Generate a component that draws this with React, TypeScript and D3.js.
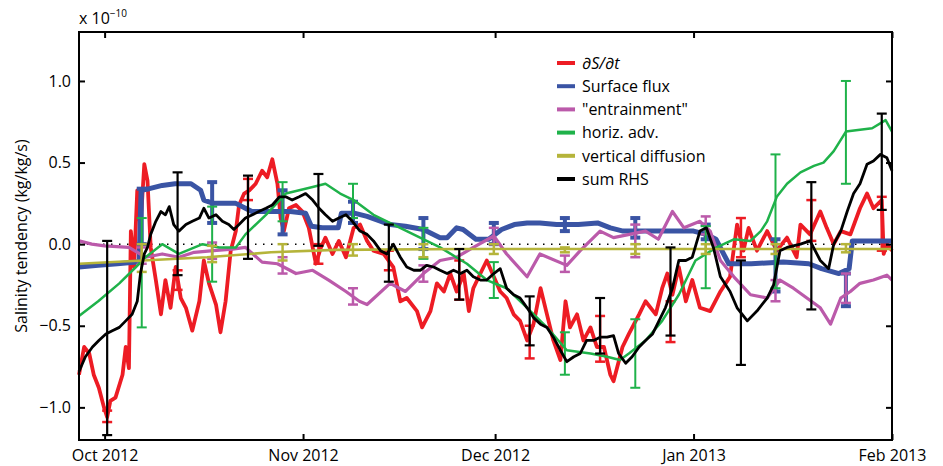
import React, { useEffect, useRef } from "react";
import * as d3 from "d3";

// days counted from 27 Sep 2012
const redDays = [0, 0.8, 1.6, 2.3, 3.1, 3.9, 4.4, 4.9, 5.7, 6.8, 7.3, 7.8, 8.1, 8.6, 9.1, 9.6, 10.2, 10.7, 11.2, 12.0, 12.8, 13.5, 14.3, 15.1, 15.9, 16.7, 17.7, 18.8, 19.5, 20.3, 21.4, 22.1, 22.9, 23.7, 24.5, 25.0, 25.8, 26.6, 27.6, 28.6, 29.4, 30.2, 31.0, 31.5, 32.0, 32.8, 33.9, 34.9, 35.9, 37.0, 37.8, 38.5, 39.6, 40.6, 41.7, 42.9, 43.9, 45.0, 46.0, 47.6, 49.1, 50.2, 51.2, 52.8, 53.6, 54.9, 55.9, 57.0, 58.0, 59.0, 60.1, 60.9, 61.6, 62.7, 63.7, 64.8, 65.8, 66.8, 67.9, 68.9, 70.0, 71.0, 72.1, 73.1, 74.1, 75.2, 76.0, 76.7, 77.8, 78.8, 79.9, 80.9, 82.0, 83.0, 83.5, 84.9, 85.9, 87.5, 88.5, 90.1, 91.1, 91.9, 92.7, 93.7, 94.8, 95.8, 97.0, 98.6, 100.2, 101.7, 102.8, 103.8, 104.6, 105.9, 107.5, 109.0, 110.6, 112.1, 112.7, 114.2, 115.8, 116.8, 117.9, 119.0, 120.5, 122.0, 123.1, 124.1, 125.4, 125.7, 126.2, 127.0];
const redValues = [-0.80, -0.63, -0.67, -0.80, -0.88, -1.00, -1.06, -0.96, -0.94, -0.80, -0.63, -0.76, 0.08, -0.14, 0.33, 0.10, 0.49, 0.39, -0.02, -0.22, -0.43, -0.22, -0.39, -0.14, -0.33, -0.39, -0.53, -0.35, -0.10, -0.24, -0.37, -0.54, -0.35, -0.04, 0.08, 0.24, 0.31, 0.33, 0.37, 0.45, 0.41, 0.52, 0.37, 0.16, 0.08, 0.22, 0.24, 0.20, 0.10, -0.12, -0.02, 0.04, -0.06, 0.02, -0.08, 0.10, 0.12, 0.02, -0.04, -0.06, -0.14, -0.35, -0.33, -0.41, -0.51, -0.41, -0.24, -0.29, -0.18, -0.29, -0.18, -0.41, -0.27, -0.18, -0.10, -0.20, -0.29, -0.33, -0.43, -0.47, -0.59, -0.49, -0.27, -0.43, -0.59, -0.71, -0.35, -0.51, -0.43, -0.59, -0.51, -0.63, -0.63, -0.80, -0.84, -0.63, -0.55, -0.43, -0.35, -0.43, -0.27, -0.18, -0.31, -0.14, -0.35, -0.22, -0.39, -0.41, -0.29, -0.20, 0.12, -0.04, 0.10, -0.04, 0.08, -0.04, 0.04, -0.08, 0.12, 0.06, 0.20, 0.10, 0.0, 0.08, 0.06, 0.22, 0.31, 0.22, 0.27, -0.06, 0.0, -0.04];

const blueDays = [0, 3, 6, 9, 9.4, 9.7, 11, 13, 15, 17.5, 19, 19.5, 21, 24.5, 26, 27, 30, 33, 35.4, 36.3, 38, 40.5, 41, 43, 45, 48.6, 51, 53.8, 56.4, 57.5, 59, 60, 62, 64, 66, 68, 70, 72, 74.6, 78, 81, 83, 85, 90, 96, 98, 99.5, 101.5, 105, 110, 114, 116, 118.7, 120.3, 120.8, 127];
const blueValues = [-0.14, -0.13, -0.12, -0.11, -0.10, 0.33, 0.34, 0.36, 0.37, 0.37, 0.33, 0.27, 0.25, 0.25, 0.22, 0.20, 0.20, 0.20, 0.19, 0.11, 0.10, 0.10, 0.19, 0.19, 0.17, 0.12, 0.11, 0.09, 0.04, 0.04, 0.10, 0.09, 0.03, 0.03, 0.09, 0.12, 0.13, 0.13, 0.12, 0.12, 0.13, 0.10, 0.08, 0.08, 0.08, 0.06, 0.03, -0.12, -0.12, -0.11, -0.12, -0.15, -0.18, -0.15, 0.02, 0.02];

const magentaDays = [0, 2, 4, 7.8, 10.4, 13, 15.6, 18, 21, 24, 26, 28.6, 31, 33.9, 36.5, 39, 41.7, 43.8, 45, 48.6, 51, 53.8, 56.4, 59, 61.6, 64.8, 66.8, 70, 72, 76.2, 78.3, 81.4, 83.5, 86, 88.5, 90.5, 92.7, 94.5, 97.0, 98.6, 100.2, 102.3, 104.9, 107.5, 109.5, 111.6, 113.7, 115.8, 117.4, 119.0, 120.5, 122.0, 124.1, 126.2, 127];
const magentaValues = [0.02, 0.0, -0.01, -0.02, -0.08, -0.06, -0.08, -0.05, -0.04, -0.03, -0.02, -0.11, -0.12, -0.18, -0.16, -0.22, -0.29, -0.35, -0.37, -0.24, -0.29, -0.18, -0.10, -0.08, -0.02, 0.05, -0.06, -0.20, -0.06, -0.13, -0.04, 0.08, 0.04, 0.06, 0.08, 0.03, 0.20, 0.10, 0.14, 0.08, -0.10, -0.20, -0.31, -0.33, -0.22, -0.27, -0.33, -0.39, -0.49, -0.33, -0.29, -0.24, -0.22, -0.19, -0.22];

const greenDays = [0, 3, 6.3, 8.9, 10.4, 13, 15.6, 19.3, 21.9, 24.5, 26, 29.2, 32.3, 36.5, 38.5, 40.8, 42.9, 46, 51.2, 56.4, 60.6, 63.7, 66.8, 70, 73.1, 76.2, 79.9, 82.5, 84.5, 85.9, 88.5, 91.1, 93.7, 96.3, 99.6, 102.3, 104.9, 106.5, 107.5, 109.0, 110.6, 112.7, 114.8, 116.3, 117.9, 119.8, 123.9, 126, 127];
const greenValues = [-0.44, -0.35, -0.24, -0.14, -0.08, 0.0, -0.06, 0.0, -0.02, -0.02, 0.06, 0.18, 0.31, 0.35, 0.37, 0.31, 0.27, 0.18, 0.08, -0.02, -0.12, -0.22, -0.27, -0.39, -0.51, -0.65, -0.67, -0.69, -0.71, -0.67, -0.59, -0.47, -0.31, -0.10, -0.02, 0.03, 0.02, 0.08, 0.14, 0.29, 0.37, 0.44, 0.48, 0.50, 0.57, 0.69, 0.71, 0.76, 0.69];

const yellowDays = [0, 10, 20, 30, 40, 60, 90, 127];
const yellowValues = [-0.12, -0.10, -0.08, -0.05, -0.035, -0.03, -0.03, -0.03];

const blackDays = [0, 1.0, 2.1, 3.1, 4.2, 5.2, 6.3, 7.3, 8.3, 9.1, 9.6, 10.2, 10.7, 11.2, 12.0, 12.8, 13.5, 14.1, 14.8, 15.6, 16.7, 17.7, 18.8, 19.5, 20.3, 21.4, 22.4, 23.4, 24.2, 25.0, 26.0, 27.1, 28.1, 29.2, 30.2, 31.3, 32.3, 33.3, 34.4, 35.4, 36.5, 37.5, 38.5, 39.6, 40.6, 41.7, 42.7, 43.9, 45.0, 46.0, 47.1, 48.1, 49.1, 50.2, 51.2, 52.3, 53.3, 54.3, 55.4, 56.4, 57.5, 58.5, 59.6, 60.6, 61.6, 62.7, 63.7, 64.8, 65.8, 66.8, 67.9, 68.9, 70.0, 71.0, 72.1, 73.1, 74.1, 75.2, 76.2, 77.3, 78.3, 79.3, 80.4, 81.4, 82.5, 83.5, 84.3, 85.4, 86.4, 87.5, 88.5, 89.6, 90.6, 91.6, 92.7, 93.7, 94.8, 95.8, 97.0, 98.0, 99.1, 100.2, 101.7, 102.8, 104.4, 105.9, 107.5, 108.5, 109.5, 110.6, 112.7, 114.2, 115.8, 117.1, 117.9, 119.0, 120.0, 121.0, 122.0, 123.1, 124.1, 125.2, 126.2, 127.0];
const blackValues = [-0.78, -0.69, -0.63, -0.59, -0.55, -0.53, -0.51, -0.47, -0.43, -0.35, -0.18, -0.06, -0.02, 0.06, 0.14, 0.20, 0.18, 0.23, 0.12, 0.08, 0.12, 0.14, 0.16, 0.22, 0.16, 0.18, 0.14, 0.12, 0.09, 0.12, 0.16, 0.18, 0.20, 0.22, 0.24, 0.29, 0.29, 0.27, 0.29, 0.31, 0.27, 0.22, 0.18, 0.14, 0.16, 0.18, 0.14, 0.08, 0.06, 0.02, -0.04, -0.06, 0.00, -0.08, -0.14, -0.16, -0.16, -0.13, -0.14, -0.16, -0.18, -0.16, -0.18, -0.16, -0.20, -0.22, -0.22, -0.18, -0.15, -0.27, -0.31, -0.33, -0.39, -0.45, -0.49, -0.51, -0.57, -0.65, -0.72, -0.69, -0.67, -0.59, -0.59, -0.57, -0.57, -0.56, -0.67, -0.73, -0.69, -0.63, -0.59, -0.55, -0.47, -0.39, -0.27, -0.10, -0.10, -0.08, 0.08, 0.10, -0.02, -0.20, -0.29, -0.39, -0.47, -0.41, -0.33, -0.25, -0.04, -0.02, 0.0, 0.02, -0.10, -0.15, 0.0, 0.08, 0.20, 0.31, 0.37, 0.49, 0.51, 0.55, 0.53, 0.45];

// error bars
const blackBarDays = [4.4, 15.4, 26.4, 37.4, 48.4, 59.4, 70.4, 81.4, 92.4, 103.4, 114.4, 125.4];
const blackBarLow = [-1.17, -0.19, -0.09, -0.01, -0.23, -0.34, -0.62, -0.67, -0.56, -0.74, -0.40, 0.21];
const blackBarHigh = [0.02, 0.44, 0.42, 0.43, 0.12, -0.03, -0.32, -0.33, -0.02, -0.10, 0.38, 0.80];
const redBarLow = [-1.09, -0.28, 0.27, -0.12, -0.16, -0.34, -0.70, -0.72, -0.60, -0.08, 0.02, -0.04];
const redBarHigh = [-1.02, -0.16, 0.40, 0.0, -0.04, -0.10, -0.50, -0.44, -0.35, 0.16, 0.27, 0.29];

const sideBarDays = [9.8, 20.8, 31.8, 42.8, 53.8, 64.8, 75.9, 86.9, 97.9, 108.8, 119.8];
const blueBarLow = [0.0, 0.13, 0.06, 0.13, -0.03, 0.0, 0.08, 0.04, 0.03, -0.29, -0.38];
const blueBarHigh = [0.34, 0.38, 0.33, 0.26, 0.16, 0.13, 0.16, 0.16, 0.12, 0.03, -0.18];
const magentaBarLow = [-0.12, -0.09, -0.18, -0.37, -0.23, 0.0, -0.17, -0.08, 0.06, -0.35, -0.36];
const magentaBarHigh = [-0.02, 0.01, -0.08, -0.27, -0.13, 0.10, -0.07, 0.12, 0.17, -0.22, -0.18];
const greenBarLow = [-0.51, -0.23, 0.14, 0.16, -0.09, -0.33, -0.80, -0.88, -0.27, -0.27, 0.37];
const greenBarHigh = [0.16, 0.23, 0.38, 0.37, 0.10, -0.11, -0.54, -0.46, 0.11, 0.55, 1.00];
const yellowBarLow = [-0.17, -0.11, -0.10, -0.07, -0.08, -0.06, -0.05, -0.06, -0.06, -0.06, -0.05];
const yellowBarHigh = [0.0, -0.01, 0.0, 0.0, 0.0, 0.0, -0.02, 0.0, 0.0, 0.0, 0.0];

const legendLabels = ["∂S/∂t", "Surface flux", "\"entrainment\"", "horiz. adv.", "vertical diffusion", "sum RHS"];
const colors = ["#ed1c24", "#3a54a4", "#bb5aaa", "#1fb24a", "#b5b43a", "#000000"];
const yTicks = [-1.0, -0.5, 0, 0.5, 1.0];

const App: React.FC = () => {
  const ref = useRef<SVGSVGElement>(null);

  useEffect(() => {
    const svg = d3.select(ref.current);
    svg.selectAll("*").remove();
    const font = "'Open Sans', sans-serif";

    const left = 79, right = 892, top = 32, bottom = 440;
    const start = new Date(2012, 8, 27).getTime();
    const toDate = (d: number) => new Date(start + d * 864e5);

    const x = d3.scaleTime().domain([toDate(0), new Date(2013, 1, 1)]).range([left, right]);
    const y = d3.scaleLinear().domain([-1.2, 1.3]).range([bottom, top]);

    // zero reference
    svg.append("line")
      .attr("x1", left).attr("x2", right)
      .attr("y1", y(0)).attr("y2", y(0))
      .attr("stroke", "#000").attr("stroke-width", 1.5)
      .attr("stroke-dasharray", "1.5,6.5");

    const line = d3.line<[number, number]>()
      .x(d => x(toDate(d[0])))
      .y(d => y(d[1]));

    const drawLine = (days: number[], vals: number[], color: string, w: number) => {
      svg.append("path")
        .datum(days.map((d, i) => [d, vals[i]] as [number, number]))
        .attr("d", line)
        .attr("fill", "none")
        .attr("stroke", color)
        .attr("stroke-width", w)
        .attr("stroke-linejoin", "round");
    };

    const drawBars = (days: number[], lo: number[], hi: number[], color: string, w: number, cap: number) => {
      const g = svg.append("g").attr("stroke", color).attr("stroke-width", w);
      days.forEach((d, i) => {
        const cx = x(toDate(d));
        g.append("line").attr("x1", cx).attr("x2", cx).attr("y1", y(lo[i])).attr("y2", y(hi[i]));
        g.append("line").attr("x1", cx - cap).attr("x2", cx + cap).attr("y1", y(lo[i])).attr("y2", y(lo[i]));
        g.append("line").attr("x1", cx - cap).attr("x2", cx + cap).attr("y1", y(hi[i])).attr("y2", y(hi[i]));
      });
    };

    drawLine(redDays, redValues, colors[0], 3.8);
    drawBars(blackBarDays, redBarLow, redBarHigh, colors[0], 2.5, 5);
    drawLine(blueDays, blueValues, colors[1], 5);
    drawBars(sideBarDays, blueBarLow, blueBarHigh, colors[1], 4, 5);
    drawLine(magentaDays, magentaValues, colors[2], 3.2);
    drawBars(sideBarDays, magentaBarLow, magentaBarHigh, colors[2], 2.5, 5);
    drawLine(greenDays, greenValues, colors[3], 2.5);
    drawBars(sideBarDays, greenBarLow, greenBarHigh, colors[3], 2, 5);
    drawLine(yellowDays, yellowValues, colors[4], 2.6);
    drawBars(sideBarDays, yellowBarLow, yellowBarHigh, colors[4], 2.5, 5);
    drawLine(blackDays, blackValues, colors[5], 2.8);
    drawBars(blackBarDays, blackBarLow, blackBarHigh, colors[5], 2.2, 5);

    // axes
    const months = d3.timeMonth.range(new Date(2012, 9, 1), new Date(2013, 1, 2));
    const bottomAxis = svg.append("g")
      .attr("transform", `translate(0,${bottom})`)
      .call(d3.axisBottom(x).tickValues(months).tickSize(-6).tickPadding(10)
        .tickFormat(d => d3.timeFormat("%b %Y")(d as Date)));
    svg.append("g")
      .attr("transform", `translate(0,${top})`)
      .call(d3.axisTop(x).tickValues(months).tickSize(-6).tickFormat(() => ""));
    const leftAxis = svg.append("g")
      .attr("transform", `translate(${left},0)`)
      .call(d3.axisLeft(y).tickValues(yTicks).tickSize(-6).tickPadding(8).tickFormat(d3.format(".1f")));
    svg.append("g")
      .attr("transform", `translate(${right},0)`)
      .call(d3.axisRight(y).tickValues(yTicks).tickSize(-6).tickFormat(() => ""));

    svg.selectAll(".domain").remove();
    svg.selectAll(".tick line").attr("stroke", "#000").attr("stroke-width", 2);
    [bottomAxis, leftAxis].forEach(a =>
      a.selectAll("text").attr("font-family", font).attr("font-size", 16).attr("fill", "#000"));

    svg.append("rect")
      .attr("x", left).attr("y", top)
      .attr("width", right - left).attr("height", bottom - top)
      .attr("fill", "none").attr("stroke", "#000").attr("stroke-width", 2);

    // exponent
    const expo = svg.append("text")
      .attr("x", left).attr("y", 24)
      .attr("font-family", font).attr("font-size", 16).attr("fill", "#000");
    expo.append("tspan").text("x 10");
    expo.append("tspan").attr("font-size", 10).attr("dy", -7).text("\u221210");

    // y label
    svg.append("text")
      .attr("transform", "translate(27,236) rotate(-90)")
      .attr("text-anchor", "middle")
      .attr("font-family", font).attr("font-size", 16).attr("fill", "#000")
      .text("Salinity tendency (kg/kg/s)");

    // legend
    const lg = svg.append("g").attr("transform", "translate(557,63)");
    legendLabels.forEach((label, i) => {
      const row = lg.append("g").attr("transform", `translate(0,${i * 23.2})`);
      row.append("line").attr("x1", 0).attr("x2", 18).attr("y1", 0).attr("y2", 0)
        .attr("stroke", colors[i]).attr("stroke-width", 4);
      row.append("text").attr("x", 25).attr("y", 0).attr("dy", "0.36em")
        .attr("font-family", font).attr("font-size", 16).attr("fill", "#000")
        .attr("font-style", i === 0 ? "italic" : "normal")
        .text(label);
    });
  }, []);

  return (
    <svg
      ref={ref}
      width={943}
      height={466}
      style={{ position: "absolute", left: 0, top: 0, background: "#fff" }}
    />
  );
};

export default App;
